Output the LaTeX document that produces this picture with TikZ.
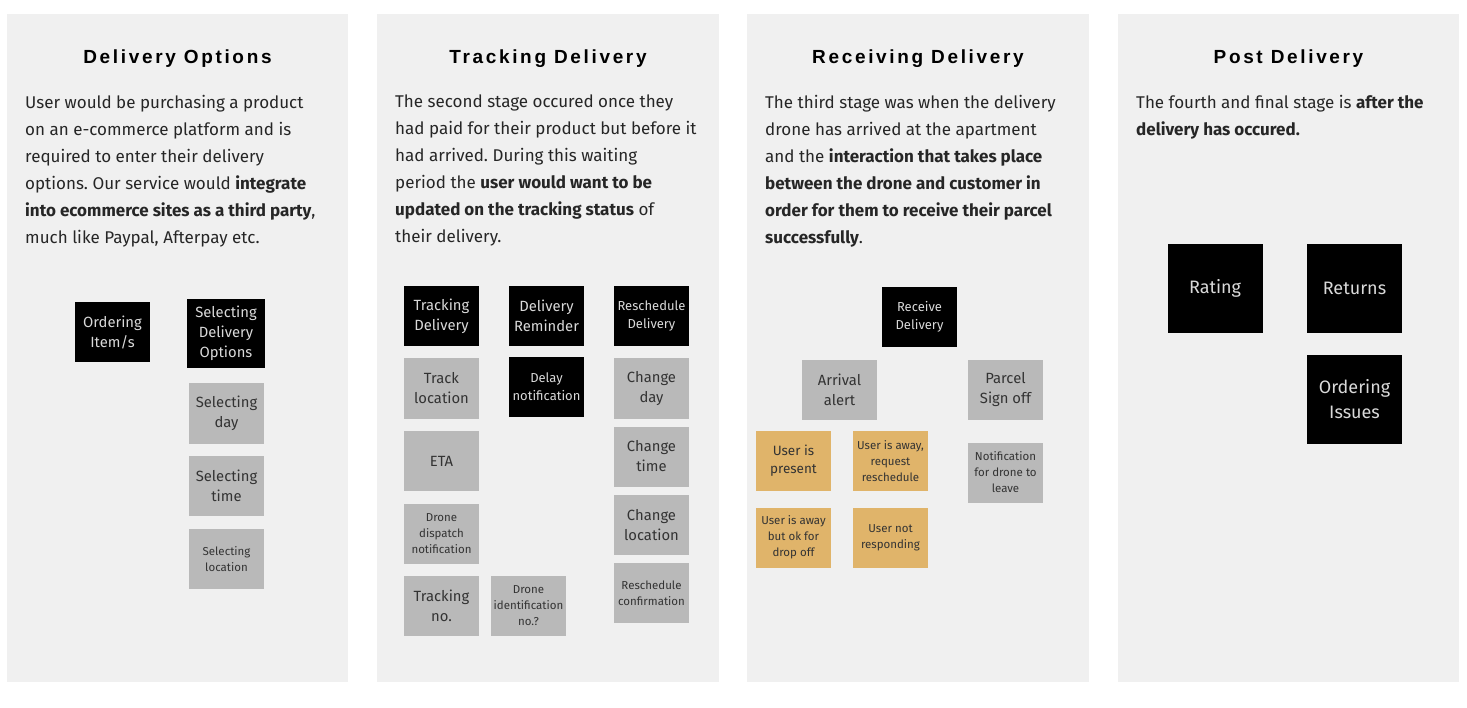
\documentclass[tikz,border=0pt]{standalone}
\usepackage{fontspec}
\setmainfont{Fira Sans}
\newfontfamily\titlefont[LetterSpace=14]{Liberation Sans}
\usetikzlibrary{positioning}
\frenchspacing
\definecolor{panelgray}{HTML}{F0F0F0}
\definecolor{notegray}{HTML}{B9B9B9}
\definecolor{noteamber}{HTML}{E0B46A}
\tikzset{
  panel/.style={fill=panelgray},
  stagetitle/.style={font=\titlefont\bfseries\fontsize{19}{23}\selectfont, anchor=base, inner sep=0pt},
  blurb/.style={font=\fontsize{17}{27}\selectfont, align=left, anchor=north west, inner sep=0pt, text=black!85},
  note/.style={minimum width=75pt, minimum height=60pt, inner sep=1pt, align=center, font=\fontsize{14.8}{20}\selectfont},
  darknote/.style={note, fill=black, text=white!85!black},
  greynote/.style={note, fill=notegray, text=black!80},
  ambernote/.style={note, fill=noteamber, text=black!80},
  bignote/.style={minimum width=95pt, minimum height=89pt, font=\fontsize{18}{25}\selectfont},
  smalltext/.style={font=\fontsize{11.5}{16}\selectfont},
  midtext/.style={font=\fontsize{13}{18}\selectfont}
}
\begin{document}
\begin{tikzpicture}[x=1pt, y=-1pt]
  \useasboundingbox (0,0) rectangle (1467,708);
  % panels
  \fill[panel] (7,14) rectangle (348,682);
  \fill[panel] (377,14) rectangle (719,682);
  \fill[panel] (747,14) rectangle (1089,682);
  \fill[panel] (1118,14) rectangle (1459,682);

  % delivery options
  \node[stagetitle] (opttitle) at (177.5,64) {Delivery Options};
  \node[blurb] (opttext) at (25,95) {User would be purchasing a product\\ on an e-commerce platform and is\\ required to enter their delivery\\ options. Our service would \textbf{integrate}\\ \textbf{into ecommerce sites as a third party},\\ much like Paypal, Afterpay etc.};
  \node[darknote] (ordering) at (112.5,332) {Ordering\\ Item/s};
  \node[darknote, minimum width=78pt, minimum height=69pt] (selopts) at (226,333.5) {Selecting\\ Delivery\\ Options};
  \node[greynote] (selday) at (226.5,413.5) {Selecting\\ day};
  \node[greynote] (seltime) at (226.5,486) {Selecting\\ time};
  \node[greynote, smalltext] (selloc) at (226.5,559) {Selecting\\ location};

  % tracking delivery
  \node[stagetitle] (tracktitle) at (548,64) {Tracking Delivery};
  \node[blurb] (tracktext) at (395,95) {The second stage occured once they\\ had paid for their product but before it\\ had arrived. During this waiting\\ period the \textbf{user would want to be}\\ \textbf{updated on the tracking status} of\\ their delivery.};
  \node[darknote] (trackdel) at (441.5,316) {Tracking\\ Delivery};
  \node[darknote] (reminder) at (546.5,316) {Delivery\\ Reminder};
  \node[darknote, midtext] (resched) at (651.5,316) {Reschedule\\ Delivery};
  \node[greynote] (trackloc) at (441.5,388.5) {Track\\ location};
  \node[darknote, midtext] (delay) at (546.5,387) {Delay\\ notification};
  \node[greynote] (chday) at (651.5,388.5) {Change\\ day};
  \node[greynote] (eta) at (441.5,461) {ETA};
  \node[greynote] (chtime) at (651.5,456.5) {Change\\ time};
  \node[greynote, smalltext] (dispatch) at (441.5,534) {Drone\\ dispatch\\ notification};
  \node[greynote] (chloc) at (651.5,525) {Change\\ location};
  \node[greynote] (trackno) at (441.5,606) {Tracking\\ no.};
  \node[greynote, smalltext] (droneid) at (528.5,606) {Drone\\ identification\\ no.?};
  \node[greynote, smalltext] (reschconf) at (651.5,593) {Reschedule\\ confirmation};

  % receiving delivery
  \node[stagetitle] (recvtitle) at (918,64) {Receiving Delivery};
  \node[blurb] (recvtext) at (765,95) {The third stage was when the delivery\\ drone has arrived at the apartment\\ and the \textbf{interaction that takes place}\\ \textbf{between the drone and customer in}\\ \textbf{order for them to receive their parcel}\\ \textbf{successfully}.};
  \node[darknote, midtext] (receive) at (919.5,317) {Receive\\ Delivery};
  \node[greynote] (arrival) at (839.5,390) {Arrival\\ alert};
  \node[greynote] (signoff) at (1005.5,390) {Parcel\\ Sign off};
  \node[ambernote, font=\fontsize{13.5}{18}\selectfont] (present) at (793.5,461) {User is\\ present};
  \node[ambernote, smalltext] (away) at (890.5,461) {User is away,\\ request\\ reschedule};
  \node[greynote, smalltext] (leave) at (1005.5,472.5) {Notification\\ for drone to\\ leave};
  \node[ambernote, smalltext] (dropoff) at (793.5,537.5) {User is away\\ but ok for\\ drop off};
  \node[ambernote, smalltext] (noreply) at (890.5,537.5) {User not\\ responding};

  % post delivery
  \node[stagetitle] (posttitle) at (1288.5,64) {Post Delivery};
  \node[blurb] (posttext) at (1136,95) {The fourth and final stage is \textbf{after the}\\ \textbf{delivery has occured.}};
  \node[darknote, bignote] (rating) at (1215,288.5) {Rating};
  \node[darknote, bignote] (returns) at (1354.5,288.5) {Returns};
  \node[darknote, bignote] (issues) at (1354.5,399.5) {Ordering\\ Issues};
\end{tikzpicture}
\end{document}
